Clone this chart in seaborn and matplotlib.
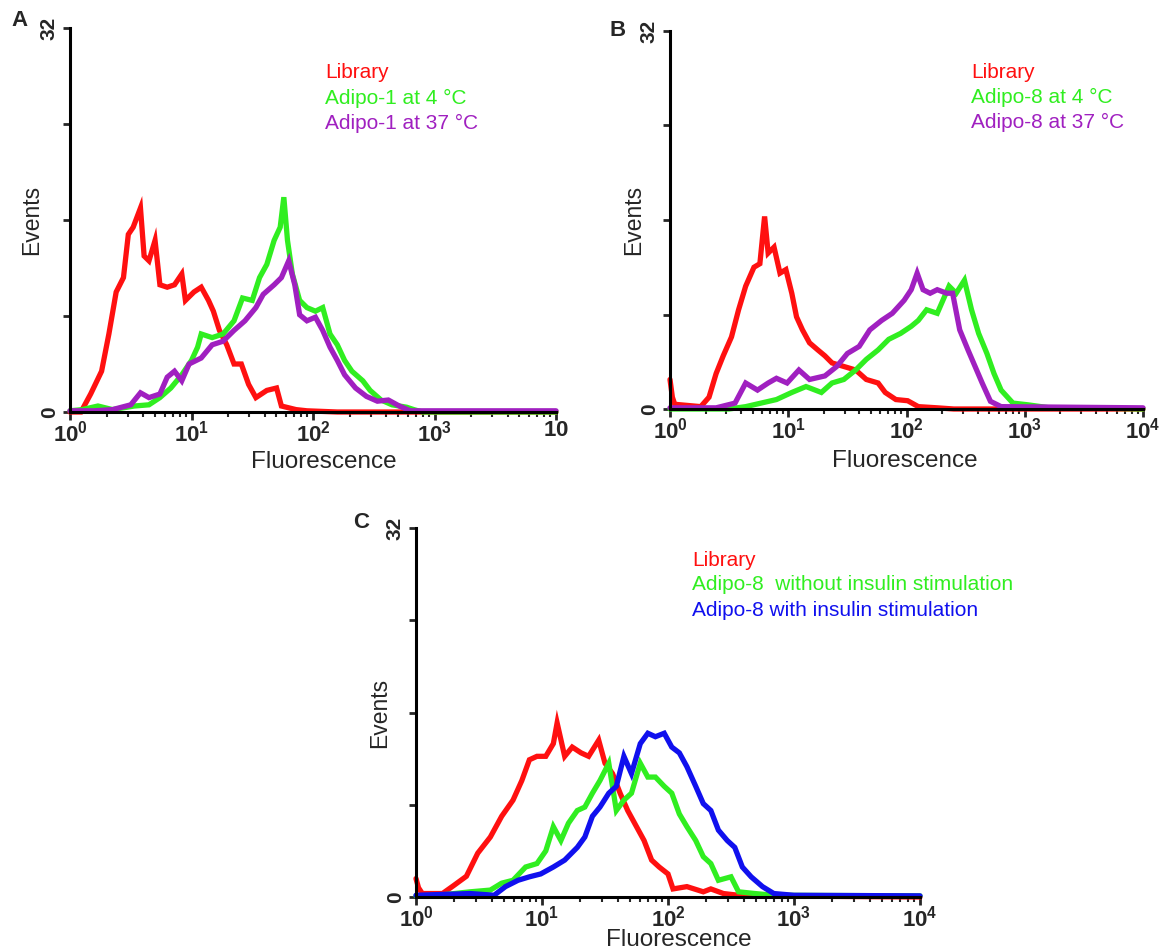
import numpy as np
import pandas as pd
import seaborn as sns
from matplotlib import pyplot as plt
from matplotlib import ticker

# ---- data (x as log10 of fluorescence, y in events) ----
# panel A
a_lib_exp = [0.0, 0.09, 0.17, 0.26, 0.32, 0.38, 0.44, 0.48, 0.52, 0.58, 0.61, 0.65, 0.70, 0.74, 0.80, 0.86, 0.92, 0.95,
             1.02, 1.08, 1.14, 1.18, 1.23, 1.29, 1.35, 1.41, 1.47, 1.53, 1.62, 1.70, 1.74, 1.86, 1.95, 2.2, 4.0]
a_lib_evt = [0, 0, 1.5, 3.4, 6.5, 10, 11.2, 14.8, 15.4, 17, 13, 12.6, 14.3, 10.6, 10.4, 10.6, 11.5, 9.3,
             10, 10.4, 9.3, 8.4, 6.8, 5.6, 4, 4, 2.3, 1.2, 1.8, 2, 0.5, 0.2, 0.1, 0, 0]
a_4c_exp = [0, 0.1, 0.23, 0.35, 0.53, 0.65, 0.74, 0.83, 0.92, 1.0, 1.05, 1.08, 1.17, 1.26, 1.35, 1.42, 1.50, 1.56,
            1.62, 1.68, 1.73, 1.76, 1.79, 1.83, 1.89, 1.95, 2.02, 2.08, 2.14, 2.2, 2.26, 2.32, 2.41, 2.47, 2.56,
            2.65, 2.77, 2.83, 2.9, 4.0]
a_4c_evt = [0.1, 0.2, 0.5, 0.2, 0.5, 0.6, 1.2, 2, 3.1, 4.3, 5.4, 6.5, 6.2, 6.5, 7.6, 9.5, 9.3, 11.2,
            12.3, 14.3, 15.4, 17.9, 14.3, 11.5, 9.3, 8.7, 8.4, 8.7, 6.5, 5.6, 4.3, 3.4, 2.6, 1.8, 1.0,
            0.6, 0.4, 0.2, 0, 0]
a_37c_exp = [0, 0.2, 0.35, 0.50, 0.58, 0.65, 0.74, 0.80, 0.86, 0.92, 0.98, 1.08, 1.17, 1.26, 1.35, 1.44, 1.53, 1.59,
             1.68, 1.74, 1.80, 1.85, 1.89, 1.95, 2.02, 2.08, 2.14, 2.20, 2.26, 2.35, 2.44, 2.53, 2.62, 2.71, 2.80,
             2.9, 4.0]
a_37c_evt = [0.1, 0.1, 0.2, 0.6, 1.6, 1.2, 1.5, 2.9, 3.4, 2.6, 4, 4.5, 5.6, 5.9, 6.8, 7.6, 8.7, 9.8,
             10.6, 11.2, 12.6, 10.6, 8.1, 7.6, 7.9, 6.8, 5.4, 4.3, 3.1, 2, 1.3, 0.9, 1, 0.5, 0.1,
             0.1, 0.1]

# panel B
b_lib_exp = [0, 0.02, 0.04, 0.26, 0.33, 0.39, 0.45, 0.52, 0.58, 0.64, 0.71, 0.76, 0.80, 0.83, 0.88, 0.93, 0.98,
             1.03, 1.07, 1.12, 1.18, 1.25, 1.31, 1.37, 1.47, 1.57, 1.66, 1.76, 1.82, 1.91, 2.01, 2.10, 2.26, 2.4, 4.0]
b_lib_evt = [2.5, 1.0, 0.4, 0.2, 1, 3, 4.5, 6.1, 8.4, 10.4, 12, 12.3, 16.3, 13.2, 13.7, 11.5, 11.8,
             9.8, 7.8, 6.7, 5.6, 5, 4.5, 3.9, 3.6, 3.3, 2.5, 2.2, 1.4, 0.8, 0.7, 0.2, 0.1, 0, 0]
b_4c_exp = [0, 0.5, 0.64, 0.77, 0.90, 1.03, 1.15, 1.28, 1.37, 1.47, 1.57, 1.66, 1.76, 1.85, 1.95, 2.04, 2.10,
            2.17, 2.26, 2.36, 2.42, 2.49, 2.55, 2.61, 2.68, 2.74, 2.80, 2.90, 3.03, 3.21, 3.5, 4.0]
b_4c_evt = [0, 0, 0.2, 0.5, 0.8, 1.4, 1.9, 1.4, 2.2, 2.5, 3.3, 4.2, 5, 5.9, 6.4, 7, 7.5,
            8.4, 8.1, 10.4, 9.8, 10.9, 8.4, 6.4, 4.7, 3, 1.6, 0.5, 0.35, 0.1, 0.1, 0]
b_37c_exp = [0, 0.39, 0.55, 0.64, 0.74, 0.83, 0.90, 0.99, 1.09, 1.18, 1.31, 1.41, 1.50, 1.60, 1.69, 1.79, 1.88,
             1.98, 2.04, 2.09, 2.14, 2.20, 2.26, 2.34, 2.39, 2.45, 2.52, 2.58, 2.64, 2.71, 2.80, 4.0]
b_37c_evt = [0.1, 0.1, 0.5, 2.2, 1.6, 2.2, 2.6, 2.2, 3.3, 2.5, 2.8, 3.6, 4.7, 5.3, 6.7, 7.5, 8.1,
             9.2, 10.1, 11.5, 10.1, 9.8, 10.1, 9.8, 9.8, 6.7, 5, 3.6, 2.2, 0.65, 0.2, 0.1]

# panel C
c_lib_exp = [0, 0.02, 0.05, 0.21, 0.30, 0.40, 0.49, 0.59, 0.68, 0.77, 0.84, 0.90, 0.96, 1.03, 1.09, 1.12, 1.18,
             1.24, 1.31, 1.37, 1.45, 1.50, 1.56, 1.62, 1.68, 1.75, 1.81, 1.87, 1.93, 2.00, 2.04, 2.15, 2.28, 2.34,
             2.44, 2.56, 2.7, 4.0]
c_lib_evt = [1.6, 0.8, 0.3, 0.3, 1, 1.8, 3.8, 5.2, 7, 8.4, 10.1, 11.9, 12.2, 12.2, 13.3, 15.1, 12.2,
             13, 12.5, 12.2, 13.6, 11.6, 10.7, 9, 7.5, 6.1, 4.9, 3.2, 2.6, 2, 0.7, 0.9, 0.45, 0.7,
             0.3, 0.15, 0.1, 0]
c_noins_exp = [0, 0.18, 0.43, 0.59, 0.68, 0.77, 0.87, 0.96, 1.03, 1.09, 1.15, 1.21, 1.28, 1.34, 1.40, 1.46, 1.53,
               1.59, 1.65, 1.71, 1.78, 1.84, 1.90, 1.97, 2.03, 2.09, 2.15, 2.22, 2.28, 2.34, 2.40, 2.50, 2.56,
               2.69, 2.84, 4.0]
c_noins_evt = [0.1, 0.15, 0.45, 0.6, 1.2, 1.45, 2.6, 2.9, 4, 6.1, 4.9, 6.4, 7.5, 7.8, 9, 10.1, 11.6,
               7.5, 8.4, 9, 11.6, 10.4, 10.4, 9.6, 9, 7.2, 6.1, 4.9, 3.5, 2.9, 1.45, 1.75, 0.45,
               0.3, 0.15, 0.1]
c_ins_exp = [0, 0.43, 0.62, 0.71, 0.81, 0.90, 0.99, 1.09, 1.18, 1.28, 1.34, 1.40, 1.46, 1.53, 1.59, 1.65, 1.71,
             1.78, 1.84, 1.90, 1.97, 2.03, 2.09, 2.15, 2.22, 2.28, 2.34, 2.40, 2.47, 2.53, 2.59, 2.66, 2.75,
             2.84, 3.0, 4.0]
c_ins_evt = [0.15, 0.3, 0.15, 0.9, 1.45, 1.75, 2, 2.6, 3.2, 4.3, 5.2, 7, 7.8, 9, 9.6, 12.2, 10.7,
             13.3, 14.2, 13.9, 14.2, 13, 12.5, 11.3, 9.6, 8.1, 7.5, 5.8, 4.9, 4.3, 2.6, 1.75, 0.9,
             0.3, 0.15, 0.1]

a_names = ['Library', 'Adipo-1 at 4 \u00b0C', 'Adipo-1 at 37 \u00b0C']
b_names = ['Library', 'Adipo-8 at 4 \u00b0C', 'Adipo-8 at 37 \u00b0C']
c_names = ['Library', 'Adipo-8  without insulin stimulation', 'Adipo-8 with insulin stimulation']

decade_labels = [r'$\mathbf{10^{0}}$', r'$\mathbf{10^{1}}$', r'$\mathbf{10^{2}}$',
                 r'$\mathbf{10^{3}}$', r'$\mathbf{10^{4}}$']

RED = '#ff1010'
GREEN = '#30ee20'
PURPLE = '#a020c0'
BLUE = '#1010ee'

W, H = 1169, 950

sns.set_style('ticks')
plt.rcParams['font.family'] = ['Liberation Sans', 'DejaVu Sans']
plt.rcParams['mathtext.fontset'] = 'custom'
plt.rcParams['mathtext.bf'] = 'Liberation Sans:bold'
plt.rcParams['mathtext.rm'] = 'Liberation Sans'


def px_box(x0, y0, x1, y1):
    """pixel box (left, top, right, bottom) -> figure fraction rect"""
    return [x0 / W, 1 - y1 / H, (x1 - x0) / W, (y1 - y0) / H]


def draw(ax, box, series, names, colors, last_label, letter, legend_xy, xlab_x, xlab_y, ylab_x):
    frames = []
    for (e, v), n in zip(series, names):
        frames.append(pd.DataFrame({'fluor': 10 ** np.array(e), 'events': v, 'series': n}))
    df = pd.concat(frames, ignore_index=True)

    sns.lineplot(data=df, x='fluor', y='events', hue='series', hue_order=names,
                 palette=dict(zip(names, colors)), estimator=None, legend=False,
                 linewidth=3.8, ax=ax)
    for ln in ax.get_lines():
        ln.set_clip_on(False)
        ln.set_solid_joinstyle('miter')

    ax.set_xscale('log')
    ax.set_xlim(1, 1e4)
    ax.set_ylim(0, 32)
    ax.xaxis.set_major_locator(ticker.FixedLocator([1, 10, 100, 1000, 10000]))
    ax.xaxis.set_major_formatter(ticker.FixedFormatter(decade_labels[:4] + [last_label]))
    ax.xaxis.set_minor_locator(ticker.LogLocator(base=10, subs=np.arange(2, 10)))
    ax.xaxis.set_minor_formatter(ticker.NullFormatter())
    ax.set_yticks([0, 8, 16, 24, 32])
    ax.set_yticklabels(['0', '', '', '', '32'], rotation=90, va='center')

    ax.tick_params(axis='x', which='major', length=6, width=2, labelsize=16, pad=0)
    ax.tick_params(axis='x', which='minor', length=3.5, width=1.5)
    ax.tick_params(axis='y', length=5, width=2, labelsize=15, pad=3)
    for lab in ax.get_yticklabels():
        lab.set_fontweight('bold')

    sns.despine(ax=ax)
    for s in ['left', 'bottom']:
        ax.spines[s].set_linewidth(2.2)
        ax.spines[s].set_color('black')

    x0, y0, x1, y1 = box
    ax.set_xlabel('Fluorescence', fontsize=17.5)
    ax.xaxis.label.set_va('center')
    ax.xaxis.set_label_coords((xlab_x - x0) / (x1 - x0), -(xlab_y - y1) / (y1 - y0))
    ax.set_ylabel('Events', fontsize=16.5)
    ax.yaxis.label.set_va('center')
    ax.yaxis.set_label_coords(-(x0 - ylab_x) / (x1 - x0), 0.5)

    lx, ly = legend_xy
    for i, (n, c) in enumerate(zip(names, colors)):
        ax.figure.text(lx / W, 1 - (ly + 25 * i) / H, n, color=c, fontsize=15, va='center', ha='left')

    lt, (tx, ty) = letter
    ax.figure.text(tx / W, 1 - ty / H, lt, fontsize=16, fontweight='bold', ha='center', va='center')


fig = plt.figure(figsize=(W / 100, H / 100), dpi=100)

box_a = (70, 28, 556, 412)
ax_a = fig.add_axes(px_box(*box_a))
draw(ax_a, box_a, [(a_lib_exp, a_lib_evt), (a_4c_exp, a_4c_evt), (a_37c_exp, a_37c_evt)],
     a_names, [RED, GREEN, PURPLE], r'$\mathbf{10}$', ('A', (20, 21)), (325, 73), 324, 462, 32)

box_b = (670, 31, 1143, 409)
ax_b = fig.add_axes(px_box(*box_b))
draw(ax_b, box_b, [(b_lib_exp, b_lib_evt), (b_4c_exp, b_4c_evt), (b_37c_exp, b_37c_evt)],
     b_names, [RED, GREEN, PURPLE], decade_labels[4], ('B', (618, 31)), (971, 72), 905, 461, 634)

box_c = (416, 528, 920, 897)
ax_c = fig.add_axes(px_box(*box_c))
draw(ax_c, box_c, [(c_lib_exp, c_lib_evt), (c_noins_exp, c_noins_evt), (c_ins_exp, c_ins_evt)],
     c_names, [RED, GREEN, BLUE], decade_labels[4], ('C', (361, 523)), (692, 560), 679, 940, 380)

plt.savefig('out.png', dpi=100)
